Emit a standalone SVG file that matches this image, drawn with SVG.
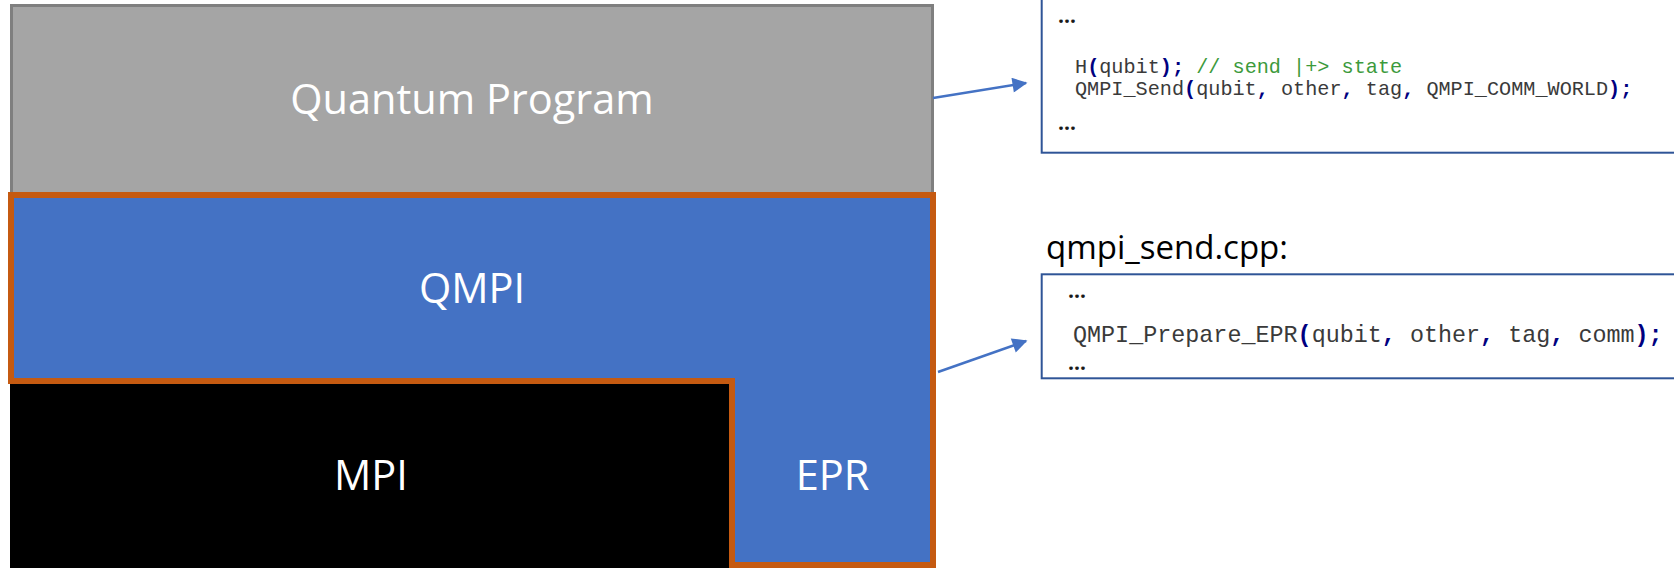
<svg xmlns="http://www.w3.org/2000/svg" width="1674" height="568" viewBox="0 0 1674 568">
  <style>
    .layer-label { font-family: "Open Sans", "Noto Sans", sans-serif; font-size: 41.5px; fill: #ffffff; text-anchor: middle; }
    .file-label { font-family: "Open Sans", "Noto Sans", sans-serif; font-size: 33px; fill: #000000; }
    .code-box { fill: #ffffff; stroke: #2F5597; stroke-width: 2; }
    .code { font-family: "Liberation Mono", "Courier New", monospace; fill: #3a3a3a; white-space: pre; }
    .punct { fill: #000080; font-weight: bold; }
    .comment { fill: #3C9A3C; }
    .dots { font-family: "Open Sans", "Noto Sans", sans-serif; font-size: 21px; font-weight: bold; fill: #1a1a1a; }
    .connector { stroke: #4472C4; stroke-width: 2.5; fill: none; marker-end: url(#arrow); }
  </style>
  <defs>
    <marker id="arrow" viewBox="0 0 10 10" refX="9" refY="5" markerWidth="7" markerHeight="6" markerUnits="strokeWidth" orient="auto">
      <path d="M0,0 L10,5 L0,10 Z" fill="#4472C4"/>
    </marker>
  </defs>

  <rect width="1674" height="568" fill="#ffffff"/>

  <!-- Top layer: the quantum program -->
  <g id="quantum-program">
    <rect x="11.5" y="5.5" width="921" height="195" fill="#A5A5A5" stroke="#7F7F7F" stroke-width="3"/>
    <text class="layer-label" x="472" y="114">Quantum Program</text>
  </g>

  <!-- Bottom-left layer: classical MPI -->
  <g id="mpi">
    <rect x="10" y="381" width="722" height="190" fill="#000000"/>
    <text class="layer-label" x="371" y="490">MPI</text>
  </g>

  <!-- L-shaped QMPI layer wrapping round MPI, with its EPR leg -->
  <g id="qmpi">
    <polygon points="11,195 933,195 933,565 732,565 732,381 11,381" fill="#4472C4" stroke="#C55A11" stroke-width="6"/>
    <text class="layer-label" x="472" y="303">QMPI</text>
  </g>

  <g id="epr">
    <text class="layer-label" x="832.5" y="490">EPR</text>
  </g>

  <!-- Application code snippet -->
  <g id="app-code">
    <rect class="code-box" x="1041.7" y="-10" width="700" height="162.7"/>
    <text class="dots" x="1058" y="23">…</text>
    <text class="code" x="1075" y="73" font-size="20.2">H<tspan class="punct">(</tspan>qubit<tspan class="punct">);</tspan> <tspan class="comment">// send |+&gt; state</tspan></text>
    <text class="code" x="1075" y="95" font-size="20.2">QMPI_Send<tspan class="punct">(</tspan>qubit<tspan class="punct">,</tspan> other<tspan class="punct">,</tspan> tag<tspan class="punct">,</tspan> QMPI_COMM_WORLD<tspan class="punct">);</tspan></text>
    <text class="dots" x="1058" y="130">…</text>
  </g>

  <!-- Library implementation snippet -->
  <g id="qmpi-send-code">
    <text class="file-label" x="1046" y="259">qmpi_send.cpp:</text>
    <rect class="code-box" x="1041.7" y="274.3" width="700" height="104"/>
    <text class="dots" x="1068" y="298">…</text>
    <text class="code" x="1073" y="342" font-size="23.4">QMPI_Prepare_EPR<tspan class="punct">(</tspan>qubit<tspan class="punct">,</tspan> other<tspan class="punct">,</tspan> tag<tspan class="punct">,</tspan> comm<tspan class="punct">);</tspan></text>
    <text class="dots" x="1068" y="370">…</text>
  </g>

  <!-- Connectors from the layers to the code they stand for -->
  <g id="connectors">
    <line class="connector" x1="933" y1="98" x2="1026" y2="83"/>
    <line class="connector" x1="938" y1="372" x2="1026" y2="341"/>
  </g>
</svg>
